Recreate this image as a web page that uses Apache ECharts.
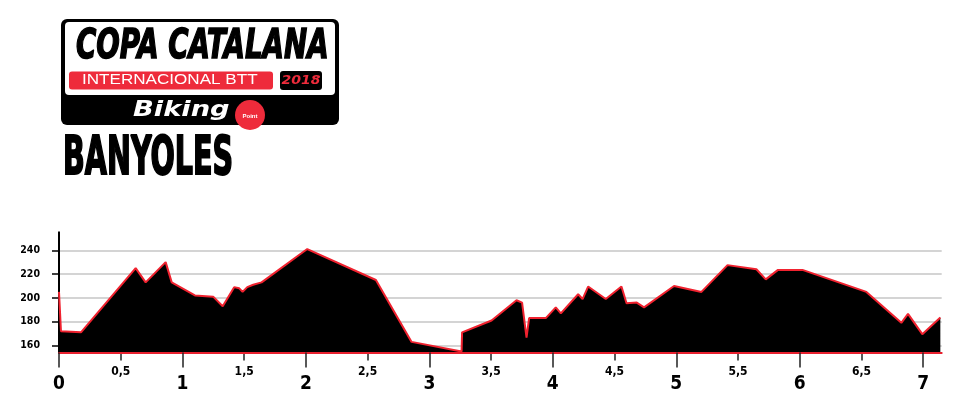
<!DOCTYPE html>
<html lang="ca">
<head>
<meta charset="UTF-8">
<title>Banyoles</title>
<script src="https://cdn.jsdelivr.net/npm/echarts@6/dist/echarts.min.js"></script>
<style>
  html, body { margin: 0; padding: 0; background: #fff; }
  #chart { width: 966px; height: 408px; }
</style>
</head>
<body>
<div id="chart"></div>
<script>
// perfil: distancia (km) i altitud (m)
const distKm = [0, 0.016, 0.178, 0.621, 0.702, 0.864, 0.913, 1.101, 1.249, 1.326,
  1.419, 1.460, 1.487, 1.525, 1.573, 1.641, 2.011, 2.567, 2.856, 3.261,
  3.265, 3.504, 3.706, 3.751, 3.787, 3.808, 3.943, 4.024, 4.065, 4.205,
  4.241, 4.286, 4.429, 4.556, 4.597, 4.680, 4.739, 4.982, 5.204, 5.415,
  5.649, 5.725, 5.824, 6.022, 6.540, 6.823, 6.877, 6.993, 7.139];
const elevM = [205, 172, 171, 225, 213, 230, 213, 202, 201, 193,
  209, 208, 205, 209, 211, 213, 241, 215, 163, 155,
  171, 181, 198, 196, 166.5, 183, 183, 192, 187, 203,
  199, 209.5, 199, 209.5, 195.5, 196, 192, 210, 205, 227.5,
  224, 215.5, 223.5, 223.5, 205, 179, 186.5, 169.5, 183.5];

const yTicks = [160, 180, 200, 220, 240];
const kmMajor = [0, 1, 2, 3, 4, 5, 6, 7];
const kmMinor = [0.5, 1.5, 2.5, 3.5, 4.5, 5.5, 6.5];

const NARROW = '"Liberation Sans Narrow", "DejaVu Sans Condensed", sans-serif';
const RED = '#ee2b3b';

const chart = echarts.init(document.getElementById('chart'));

const option = {
  animation: false,
  grid: { left: 59, right: 24.3, top: 232.4, bottom: 55.4 },
  xAxis: [
    {
      type: 'value', min: 0, max: 7.15, position: 'bottom', z: 10,
      axisLine: { show: true, lineStyle: { color: '#e8202e', width: 2 } },
      axisTick: { show: true, customValues: kmMajor, length: 15, lineStyle: { color: '#222', width: 1.5 } },
      axisLabel: {
        customValues: kmMajor, margin: 22, color: '#000',
        fontFamily: NARROW, fontWeight: 'bold', fontSize: 19
      },
      splitLine: { show: false }
    },
    {
      type: 'value', min: 0, max: 7.15, position: 'bottom',
      axisLine: { show: false },
      axisTick: { show: true, customValues: kmMinor, length: 8, lineStyle: { color: '#222', width: 1.5 } },
      axisLabel: {
        customValues: kmMinor, margin: 13, color: '#000',
        fontFamily: NARROW, fontWeight: 'bold', fontSize: 12,
        formatter: v => String(v).replace('.', ',')
      },
      splitLine: { show: false }
    }
  ],
  yAxis: [
    {
      type: 'value', min: 154, max: 255, position: 'left',
      axisLine: { show: true, lineStyle: { color: '#000', width: 2 } },
      axisTick: { show: true, customValues: yTicks, length: 7, lineStyle: { color: '#000', width: 1.5 } },
      axisLabel: {
        customValues: yTicks, margin: 19, color: '#000',
        fontFamily: NARROW, fontWeight: 'bold', fontSize: 10.5
      },
      splitLine: { show: true, lineStyle: { color: '#d4d4d4', width: 2 } }
    },
    {
      type: 'value', min: 154, max: 255, position: 'right',
      axisLine: { show: true, lineStyle: { color: '#000', width: 2 } },
      axisTick: { show: false },
      axisLabel: { show: false },
      splitLine: { show: false }
    }
  ],
  series: [{
    type: 'line',
    xAxisIndex: 0,
    yAxisIndex: 0,
    data: distKm.map((d, i) => [d, elevM[i]]),
    symbol: 'none',
    lineStyle: { color: '#f0222f', width: 2 },
    areaStyle: { color: '#000', opacity: 1 },
    silent: true,
    z: 3
  }],
  graphic: {
    elements: [
      // logo
      { type: 'rect', shape: { x: 61, y: 19, width: 278, height: 106, r: 6 }, style: { fill: '#000' } },
      { type: 'rect', shape: { x: 65, y: 22, width: 270, height: 73, r: 4 }, style: { fill: '#fff' } },
      { type: 'rect', shape: { x: 69, y: 71.5, width: 204, height: 18, r: 3 }, style: { fill: RED } },
      { type: 'rect', shape: { x: 280, y: 71, width: 42, height: 19, r: 3 }, style: { fill: '#000' } },
      { type: 'circle', shape: { cx: 250, cy: 115, r: 15 }, style: { fill: RED } },
      {
        type: 'text', x: 76, y: 47, scaleX: 0.75,
        style: { text: 'COPA CATALANA', font: 'italic bold 41px ' + NARROW, fill: '#000', stroke: '#000', lineWidth: 1.5, align: 'left', verticalAlign: 'middle' }
      },
      {
        type: 'text', x: 82, y: 80.5, scaleX: 1.22,
        style: { text: 'INTERNACIONAL BTT', font: '14px "Liberation Sans", sans-serif', fill: '#fff', align: 'left', verticalAlign: 'middle' }
      },
      {
        type: 'text', x: 301, y: 81, scaleX: 1.2,
        style: { text: '2018', font: 'italic bold 13px ' + NARROW, fill: RED, align: 'center', verticalAlign: 'middle' }
      },
      {
        type: 'text', x: 133, y: 111, scaleX: 1.3,
        style: { text: 'Biking', font: 'italic bold 21px "DejaVu Sans", sans-serif', fill: '#fff', align: 'left', verticalAlign: 'middle' }
      },
      {
        type: 'text', x: 250, y: 116,
        style: { text: 'Point', font: 'bold 6px "Liberation Sans", sans-serif', fill: '#fff', align: 'center', verticalAlign: 'middle' }
      },
      // nom de la cursa
      {
        type: 'text', x: 63, y: 160, scaleX: 0.6,
        style: { text: 'BANYOLES', font: 'bold 53px ' + NARROW, fill: '#000', stroke: '#000', lineWidth: 2, align: 'left', verticalAlign: 'middle' }
      }
    ]
  }
};

chart.setOption(option);
</script>
</body>
</html>
